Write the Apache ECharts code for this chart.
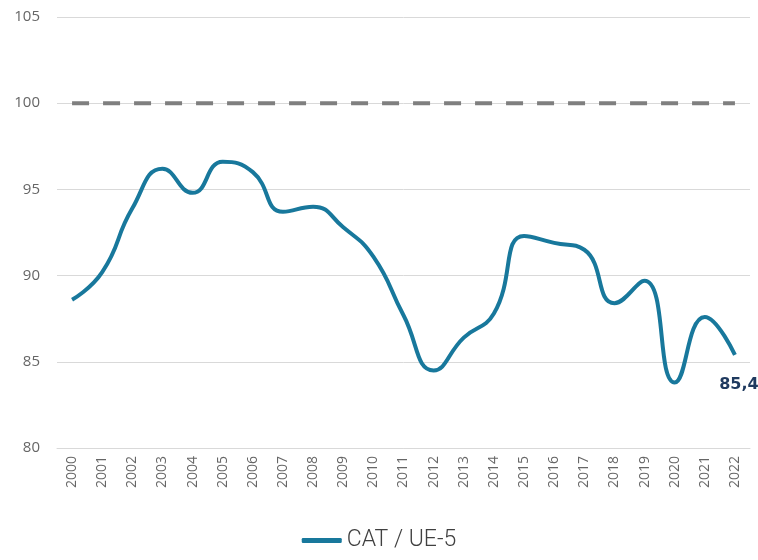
<!DOCTYPE html>
<html>
<head>
<meta charset="utf-8">
<script src="https://cdn.jsdelivr.net/npm/echarts@6/dist/echarts.min.js"></script>
<style>
  html, body { margin: 0; padding: 0; background: #fff; }
  #chart { width: 758px; height: 560px; }
</style>
</head>
<body>
<div id="chart"></div>
<script>
// years on the x axis
var years = ['2000','2001','2002','2003','2004','2005','2006','2007','2008','2009','2010',
  '2011','2012','2013','2014','2015','2016','2017','2018','2019','2020','2021','2022'];
// CAT / UE-5 index
var catUe5 = [88.6, 90.2, 93.9, 96.2, 94.8, 96.6, 96.0, 93.7, 94.0, 92.8, 91.1,
  87.7, 84.5, 86.4, 87.8, 92.3, 91.9, 91.5, 88.4, 89.7, 83.8, 87.6, 85.4];
// reference level (UE-5 = 100)
var reference = [100, 100, 100, 100, 100, 100, 100, 100, 100, 100, 100,
  100, 100, 100, 100, 100, 100, 100, 100, 100, 100, 100, 100];
var yTicks = { min: 80, max: 105, step: 5 };

var chart = echarts.init(document.getElementById('chart'));
chart.setOption({
  animation: false,
  grid: { left: 57, right: 8, top: 17, bottom: 112 },
  legend: {
    bottom: 3,
    left: 'center',
    data: ['CAT / UE-5'],
    icon: 'roundRect',
    itemWidth: 40,
    itemHeight: 5,
    textStyle: { fontSize: 23, color: '#404040', fontFamily: 'Roboto', fontWeight: 300 }
  },
  xAxis: {
    type: 'category',
    data: years,
    boundaryGap: true,
    axisLine: { lineStyle: { color: '#d9d9d9' } },
    axisTick: { show: false },
    axisLabel: {
      rotate: 90,
      margin: 8,
      color: '#666666',
      fontSize: 14,
      fontFamily: 'Open Sans'
    }
  },
  yAxis: {
    type: 'value',
    min: yTicks.min,
    max: yTicks.max,
    interval: yTicks.step,
    axisLine: { show: false },
    axisTick: { show: false },
    splitLine: { lineStyle: { color: '#d9d9d9' } },
    axisLabel: { margin: 17, color: '#666666', fontSize: 15, fontFamily: 'Open Sans' }
  },
  series: [
    {
      name: 'CAT / UE-5',
      type: 'line',
      data: catUe5,
      smooth: 0.5,
      showSymbol: false,
      lineStyle: { color: '#18789c', width: 4 },
      itemStyle: { color: '#18789c' },
      endLabel: {
        show: true,
        formatter: function (p) { return String(p.value).replace('.', ','); },
        color: '#1f3a5f',
        fontWeight: 'bold',
        fontSize: 16,
        fontFamily: 'DejaVu Sans',
        align: 'center',
        verticalAlign: 'middle',
        offset: [-4, 30]
      },
      z: 3
    },
    {
      name: 'UE-5',
      type: 'line',
      data: reference,
      symbol: 'none',
      lineStyle: { color: '#7f7f7f', width: 4, type: [17, 14] },
      silent: true,
      z: 2
    }
  ]
});
</script>
</body>
</html>
